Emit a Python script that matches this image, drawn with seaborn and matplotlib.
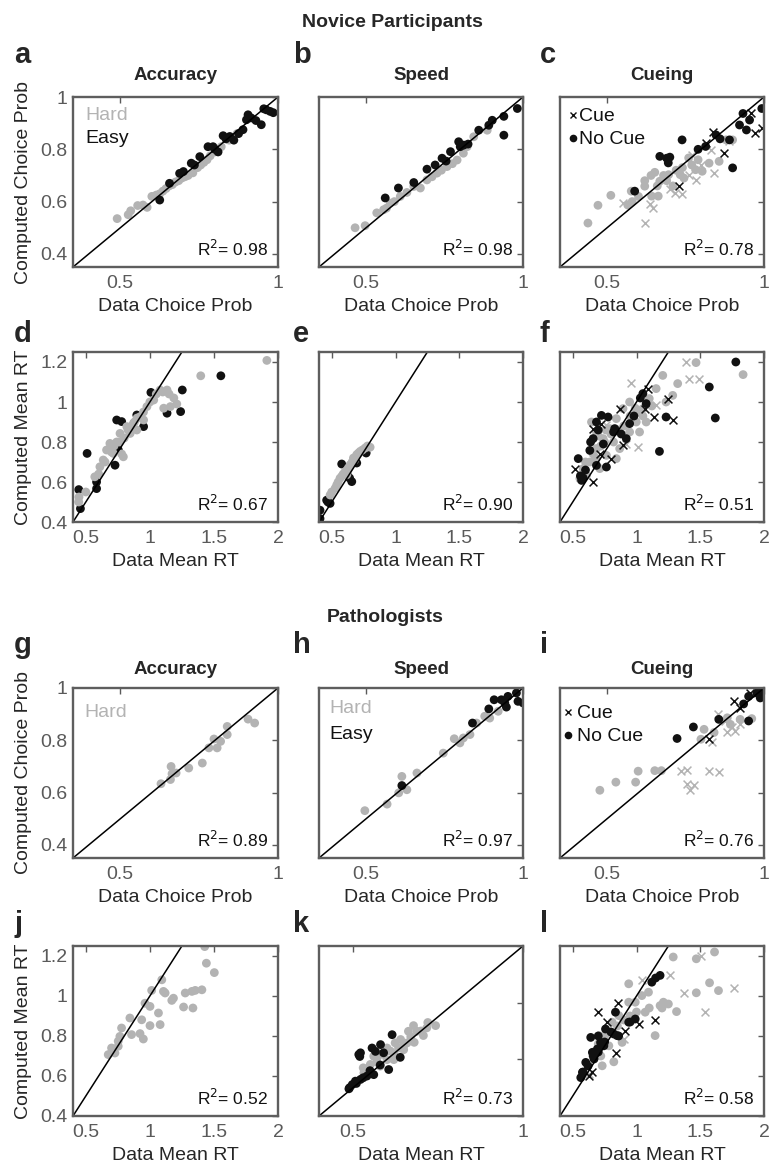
import numpy as np
import pandas as pd
import matplotlib
matplotlib.use("Agg")
import matplotlib.pyplot as plt
import seaborn as sns

sns.set_style("white")
plt.rcParams["font.family"] = ["Liberation Sans", "DejaVu Sans"]

GRAY = "#b3b3b3"
BLACK = "#111111"
FRAME = "#5e5e5e"
TICKC = "#5a5a5a"

# ---------------- data (x = data value, y = computed value) ----------------
# Novice, choice probability
a_hard = [(0.49, 0.535), (0.525, 0.55), (0.533, 0.565), (0.555, 0.585), (0.572, 0.587), (0.585, 0.578),
          (0.60, 0.62), (0.614, 0.625), (0.625, 0.63), (0.635, 0.64), (0.645, 0.65), (0.655, 0.66),
          (0.665, 0.665), (0.675, 0.675), (0.685, 0.68), (0.695, 0.69), (0.705, 0.695), (0.715, 0.70),
          (0.73, 0.71), (0.745, 0.73), (0.755, 0.74), (0.765, 0.75), (0.775, 0.76), (0.785, 0.775),
          (0.80, 0.79), (0.82, 0.81), (0.845, 0.835), (0.87, 0.86)]
a_easy = [(0.625, 0.606), (0.656, 0.67), (0.688, 0.708), (0.70, 0.715), (0.725, 0.747), (0.735, 0.74),
          (0.752, 0.772), (0.778, 0.81), (0.794, 0.81), (0.80, 0.80), (0.81, 0.79), (0.826, 0.852),
          (0.835, 0.84), (0.847, 0.849), (0.86, 0.835), (0.875, 0.86), (0.889, 0.875), (0.90, 0.913),
          (0.905, 0.932), (0.915, 0.92), (0.93, 0.91), (0.947, 0.894), (0.955, 0.955), (0.963, 0.951),
          (0.975, 0.945), (0.985, 0.94)]

b_hard = [(0.465, 0.50), (0.497, 0.508), (0.534, 0.557), (0.556, 0.569), (0.565, 0.575), (0.577, 0.594),
          (0.59, 0.60), (0.609, 0.62), (0.63, 0.635), (0.652, 0.658), (0.673, 0.652), (0.694, 0.683),
          (0.71, 0.695), (0.726, 0.709), (0.74, 0.72), (0.758, 0.734), (0.775, 0.745), (0.79, 0.759),
          (0.81, 0.785), (0.822, 0.81), (0.843, 0.848), (0.886, 0.873)]
b_easy = [(0.561, 0.614), (0.603, 0.652), (0.652, 0.673), (0.694, 0.724), (0.72, 0.74), (0.742, 0.766),
          (0.755, 0.755), (0.769, 0.791), (0.795, 0.829), (0.80, 0.81), (0.811, 0.816), (0.825, 0.82),
          (0.859, 0.873), (0.891, 0.892), (0.902, 0.911), (0.939, 0.926), (0.982, 0.956), (0.939, 0.854)]

c_hard_nocue = [(0.439, 0.518), (0.471, 0.586), (0.512, 0.624), (0.566, 0.587), (0.577, 0.64), (0.58, 0.60),
                (0.60, 0.62), (0.62, 0.659), (0.62, 0.68), (0.64, 0.70), (0.642, 0.621), (0.652, 0.712),
                (0.66, 0.66), (0.663, 0.621), (0.668, 0.678), (0.68, 0.70), (0.69, 0.68), (0.696, 0.703),
                (0.71, 0.66), (0.72, 0.72), (0.733, 0.703), (0.74, 0.73), (0.745, 0.69), (0.76, 0.767),
                (0.77, 0.74), (0.782, 0.722), (0.79, 0.76), (0.803, 0.716), (0.825, 0.747), (0.857, 0.754),
                (0.879, 0.836), (0.90, 0.836)]
c_hard_cue = [(0.55, 0.596), (0.62, 0.518), (0.636, 0.59), (0.647, 0.577), (0.70, 0.65), (0.717, 0.634),
              (0.739, 0.628), (0.76, 0.70), (0.771, 0.779), (0.782, 0.684), (0.80, 0.74), (0.83, 0.798),
              (0.841, 0.71), (0.89, 0.83)]
c_easy_nocue = [(0.588, 0.64), (0.668, 0.773), (0.69, 0.766), (0.695, 0.748), (0.70, 0.77), (0.739, 0.836),
                (0.79, 0.80), (0.814, 0.811), (0.847, 0.855), (0.86, 0.84), (0.89, 0.836), (0.90, 0.729),
                (0.922, 0.893), (0.933, 0.937), (0.944, 0.874), (0.954, 0.912), (0.993, 0.956)]
c_easy_cue = [(0.728, 0.659), (0.814, 0.823), (0.836, 0.867), (0.873, 0.785), (0.96, 0.937), (0.971, 0.861),
              (0.993, 0.88)]

# Novice, mean RT
d_hard = [(0.447, 0.525), (0.445, 0.50), (0.50, 0.55), (0.57, 0.626), (0.60, 0.64), (0.61, 0.676),
          (0.636, 0.71), (0.65, 0.70), (0.662, 0.76), (0.688, 0.793), (0.70, 0.75), (0.715, 0.743),
          (0.72, 0.78), (0.741, 0.80), (0.76, 0.80), (0.767, 0.843), (0.78, 0.74), (0.793, 0.726),
          (0.80, 0.82), (0.82, 0.877), (0.83, 0.86), (0.846, 0.843), (0.86, 0.88), (0.872, 0.894),
          (0.88, 0.90), (0.898, 0.86), (0.90, 0.92), (0.925, 0.927), (0.95, 0.95), (0.951, 0.91),
          (0.977, 0.977), (1.0, 1.0), (1.03, 1.01), (1.05, 1.04), (1.08, 1.06), (1.10, 1.05),
          (1.108, 0.969), (1.134, 1.06), (1.15, 1.04), (1.16, 0.977), (1.187, 1.02), (1.21, 0.99),
          (1.397, 1.131), (1.913, 1.208)]
d_easy = [(0.445, 0.562), (0.458, 0.467), (0.51, 0.743), (0.584, 0.60), (0.584, 0.567), (0.728, 0.684),
          (0.741, 0.91), (0.754, 0.76), (0.78, 0.902), (0.898, 0.935), (0.951, 0.877), (1.008, 1.048),
          (1.134, 0.944), (1.24, 0.952), (1.253, 1.06), (1.554, 1.131)]

e_hard = [(0.487, 0.535), (0.50, 0.55), (0.526, 0.568), (0.539, 0.585), (0.55, 0.60), (0.565, 0.619),
          (0.58, 0.63), (0.59, 0.64), (0.605, 0.652), (0.618, 0.636), (0.62, 0.66), (0.63, 0.67),
          (0.644, 0.686), (0.66, 0.70), (0.67, 0.72), (0.68, 0.71), (0.696, 0.737), (0.71, 0.745),
          (0.723, 0.753), (0.74, 0.76), (0.762, 0.77), (0.78, 0.78), (0.801, 0.774)]
e_easy = [(0.408, 0.459), (0.408, 0.417), (0.46, 0.509), (0.47, 0.50), (0.487, 0.493), (0.578, 0.69),
          (0.62, 0.64), (0.64, 0.62), (0.657, 0.602), (0.696, 0.695), (0.77, 0.745)]

f_hard_nocue = [(0.556, 0.617), (0.58, 0.64), (0.582, 0.667), (0.60, 0.70), (0.608, 0.633), (0.634, 0.70),
                (0.647, 0.90), (0.66, 0.74), (0.68, 0.72), (0.686, 0.767), (0.686, 0.85), (0.70, 0.83),
                (0.712, 0.667), (0.72, 0.78), (0.738, 0.817), (0.75, 0.80), (0.76, 0.86), (0.764, 0.733),
                (0.79, 0.867), (0.80, 0.84), (0.82, 0.80), (0.842, 0.917), (0.842, 0.717), (0.86, 0.86),
                (0.868, 0.767), (0.894, 0.967), (0.90, 0.88), (0.946, 1.0), (0.946, 0.85), (0.95, 0.93),
                (0.998, 0.90), (0.99, 0.969), (1.0, 0.95), (1.024, 0.85), (1.05, 0.967), (1.05, 0.93),
                (1.076, 0.90), (1.10, 1.017), (1.12, 0.98), (1.154, 1.067), (1.206, 1.133), (1.232, 1.0),
                (1.284, 1.033), (1.323, 1.092), (1.467, 1.197), (1.836, 1.137)]
f_hard_cue = [(0.556, 0.625), (0.764, 0.883), (0.92, 0.792), (0.959, 1.097), (1.011, 0.775), (1.154, 0.983),
              (1.389, 1.20), (1.415, 1.113), (1.487, 1.113)]
f_easy_nocue = [(0.543, 0.717), (0.56, 0.63), (0.569, 0.608), (0.582, 0.62), (0.60, 0.66), (0.634, 0.758),
                (0.64, 0.80), (0.66, 0.817), (0.686, 0.90), (0.686, 0.683), (0.70, 0.86), (0.725, 0.933),
                (0.74, 0.79), (0.764, 0.675), (0.777, 0.925), (0.82, 0.85), (0.829, 0.867), (0.88, 0.84),
                (0.92, 0.817), (0.946, 0.892), (0.98, 0.93), (1.03, 1.02), (1.05, 1.042), (1.076, 0.992),
                (1.18, 0.753), (1.232, 0.925), (1.571, 1.075), (1.618, 0.92), (1.779, 1.20)]
f_easy_cue = [(0.517, 0.667), (0.66, 0.867), (0.66, 0.60), (0.712, 0.742), (0.725, 0.892), (0.803, 0.717),
              (0.868, 0.967), (0.894, 0.783), (1.063, 0.967), (1.089, 1.067), (1.141, 0.925), (1.245, 1.017),
              (1.284, 0.908)]

# Pathologists, choice probability
g_hard = [(0.629, 0.634), (0.659, 0.65), (0.661, 0.70), (0.664, 0.672), (0.677, 0.675), (0.717, 0.694),
          (0.76, 0.713), (0.781, 0.771), (0.797, 0.805), (0.807, 0.771), (0.818, 0.796), (0.839, 0.853),
          (0.839, 0.822), (0.905, 0.881), (0.926, 0.866)]

h_hard = [(0.496, 0.531), (0.567, 0.556), (0.604, 0.599), (0.614, 0.662), (0.63, 0.611), (0.662, 0.675),
          (0.746, 0.751), (0.781, 0.806), (0.799, 0.79), (0.81, 0.809), (0.831, 0.822), (0.852, 0.866),
          (0.878, 0.892), (0.894, 0.885), (0.921, 0.911)]
h_easy = [(0.614, 0.627), (0.839, 0.866), (0.891, 0.92), (0.908, 0.955), (0.931, 0.955), (0.942, 0.943),
          (0.947, 0.927), (0.952, 0.968), (0.979, 0.981), (0.984, 0.949), (1.0, 0.943)]

i_hard_nocue = [(0.477, 0.609), (0.528, 0.64), (0.591, 0.64), (0.599, 0.682), (0.652, 0.684), (0.673, 0.684),
                (0.799, 0.804), (0.809, 0.842), (0.841, 0.83), (0.883, 0.886), (0.893, 0.861), (0.924, 0.88),
                (0.961, 0.883)]
i_hard_cue = [(0.736, 0.684), (0.755, 0.688), (0.755, 0.634), (0.765, 0.609), (0.778, 0.628), (0.825, 0.684),
              (0.835, 0.792), (0.853, 0.899), (0.856, 0.678), (0.877, 0.874), (0.883, 0.83), (0.898, 0.849),
              (0.909, 0.836), (0.924, 0.861)]
i_easy_nocue = [(0.723, 0.807), (0.775, 0.851), (0.856, 0.88), (0.935, 0.939), (0.951, 0.874), (0.951, 0.968),
                (0.977, 0.981), (0.988, 0.962), (1.0, 0.981), (0.995, 0.99)]
i_easy_cue = [(0.825, 0.804), (0.904, 0.95), (0.925, 0.924), (0.956, 0.981)]

# Pathologists, mean RT
j_hard = [(0.675, 0.707), (0.701, 0.74), (0.727, 0.715), (0.753, 0.749), (0.753, 0.774), (0.766, 0.798),
          (0.779, 0.84), (0.844, 0.89), (0.857, 0.807), (0.923, 0.812), (0.936, 0.881), (0.949, 0.785),
          (0.962, 0.964), (1.001, 0.948), (1.001, 0.852), (1.014, 1.028), (1.067, 0.915), (1.08, 0.857),
          (1.093, 1.081), (1.106, 1.023), (1.119, 1.015), (1.171, 0.978), (1.184, 0.989), (1.263, 0.945),
          (1.276, 1.015), (1.328, 1.023), (1.336, 0.94), (1.354, 1.028), (1.406, 1.031), (1.428, 1.247),
          (1.441, 1.164), (1.503, 1.117)]

k_hard = [(0.532, 0.552), (0.53, 0.57), (0.55, 0.55), (0.551, 0.582), (0.561, 0.611), (0.57, 0.59),
          (0.571, 0.605), (0.58, 0.576), (0.59, 0.617), (0.60, 0.599), (0.60, 0.64), (0.61, 0.629),
          (0.62, 0.599), (0.62, 0.62), (0.624, 0.658), (0.634, 0.64), (0.64, 0.67), (0.649, 0.634),
          (0.65, 0.65), (0.659, 0.658), (0.663, 0.699), (0.67, 0.68), (0.678, 0.719), (0.68, 0.66),
          (0.688, 0.699), (0.70, 0.70), (0.707, 0.684), (0.717, 0.711), (0.72, 0.73), (0.743, 0.719)]
k_easy = [(0.488, 0.496), (0.49, 0.50), (0.498, 0.511), (0.507, 0.523), (0.51, 0.515), (0.517, 0.617),
          (0.52, 0.61), (0.522, 0.529), (0.522, 0.623), (0.53, 0.535), (0.541, 0.541), (0.55, 0.56),
          (0.556, 0.64), (0.561, 0.546), (0.566, 0.628), (0.58, 0.58), (0.581, 0.652), (0.59, 0.623),
          (0.605, 0.564), (0.615, 0.687), (0.639, 0.607)]

l_hard_nocue = [(0.66, 0.72), (0.70, 0.76), (0.705, 0.802), (0.72, 0.70), (0.731, 0.651), (0.75, 0.80),
                (0.783, 0.751), (0.80, 0.82), (0.809, 0.869), (0.822, 0.671), (0.85, 0.85), (0.861, 0.902),
                (0.887, 0.768), (0.90, 0.88), (0.939, 0.969), (0.939, 1.061), (0.95, 0.90), (0.99, 0.969),
                (1.0, 0.92), (1.042, 1.002), (1.068, 0.919), (1.094, 1.019), (1.10, 0.94), (1.146, 0.802),
                (1.185, 0.952), (1.20, 0.94), (1.211, 0.969), (1.25, 0.96), (1.288, 1.195), (1.314, 0.922),
                (1.469, 1.186), (1.469, 1.016), (1.573, 1.066), (1.612, 1.22), (1.643, 1.027)]
l_hard_cue = [(0.628, 0.609), (0.90, 0.785), (1.042, 1.078), (1.262, 1.103), (1.373, 1.016), (1.503, 1.20),
              (1.539, 0.922), (1.767, 1.039)]
l_easy_nocue = [(0.563, 0.592), (0.576, 0.618), (0.58, 0.62), (0.602, 0.668), (0.62, 0.65), (0.641, 0.793),
                (0.654, 0.718), (0.66, 0.70), (0.667, 0.685), (0.693, 0.735), (0.70, 0.72), (0.70, 0.80),
                (0.718, 0.768), (0.744, 0.751), (0.75, 0.77), (0.757, 0.835), (0.80, 0.82), (0.822, 0.81),
                (0.835, 0.919), (0.848, 0.802), (0.86, 0.80), (0.939, 0.869), (0.95, 0.87), (0.99, 0.885),
                (1.12, 1.069), (1.15, 1.09), (1.185, 1.103)]
l_easy_cue = [(0.628, 0.601), (0.654, 0.618), (0.698, 0.922), (0.77, 0.869), (0.84, 0.715), (0.855, 0.966),
              (0.913, 0.827), (1.016, 0.86), (1.145, 0.882)]

r2_values = {"a": "0.98", "b": "0.98", "c": "0.78", "d": "0.67", "e": "0.90", "f": "0.51",
             "g": "0.89", "h": "0.97", "i": "0.76", "j": "0.52", "k": "0.73", "l": "0.58"}

choice_ticks = [0.4, 0.6, 0.8, 1.0]
choice_ticklabels = ["0.4", "0.6", "0.8", "1"]
choice_xticks = [0.5, 1.0]
choice_xticklabels = ["0.5", "1"]
rt_yticks = [0.4, 0.6, 0.8, 1.0, 1.2]
rt_yticklabels = ["0.4", "0.6", "0.8", "1", "1.2"]
rt_xticks = [0.5, 1.0, 1.5, 2.0]
rt_xticklabels = ["0.5", "1", "1.5", "2"]

# ---------------- layout ----------------
W, H = 769, 1172
col_left = [73, 319, 560]
col_w = [205, 204, 204]
row_top = [97, 352, 688, 946]
row_h = 170

fig = plt.figure(figsize=(W / 100, H / 100), dpi=100)


def make_ax(r, c):
    return fig.add_axes([col_left[c] / W, 1 - (row_top[r] + row_h) / H, col_w[c] / W, row_h / H])


def scatter(ax, pts, color, marker):
    df = pd.DataFrame(pts, columns=["data", "model"])
    if marker == "o":
        sns.scatterplot(data=df, x="data", y="model", ax=ax, color=color, marker="o",
                        s=40, linewidth=0, edgecolor="none", legend=False, zorder=3)
    else:
        sns.scatterplot(data=df, x="data", y="model", ax=ax, color=color, marker="x",
                        s=32, linewidth=1.1, legend=False, zorder=3)


panels = [
    # key, row, col, kind, title, groups
    ("a", 0, 0, "choice", "Accuracy", [(a_hard, GRAY, "o"), (a_easy, BLACK, "o")]),
    ("b", 0, 1, "choice", "Speed", [(b_hard, GRAY, "o"), (b_easy, BLACK, "o")]),
    ("c", 0, 2, "choice", "Cueing", [(c_hard_nocue, GRAY, "o"), (c_hard_cue, GRAY, "x"),
                                     (c_easy_nocue, BLACK, "o"), (c_easy_cue, BLACK, "x")]),
    ("d", 1, 0, "rt", None, [(d_easy, BLACK, "o"), (d_hard, GRAY, "o")]),
    ("e", 1, 1, "rt", None, [(e_easy, BLACK, "o"), (e_hard, GRAY, "o")]),
    ("f", 1, 2, "rt", None, [(f_hard_nocue, GRAY, "o"), (f_hard_cue, GRAY, "x"),
                             (f_easy_nocue, BLACK, "o"), (f_easy_cue, BLACK, "x")]),
    ("g", 2, 0, "choice", "Accuracy", [(g_hard, GRAY, "o")]),
    ("h", 2, 1, "choice", "Speed", [(h_hard, GRAY, "o"), (h_easy, BLACK, "o")]),
    ("i", 2, 2, "choice", "Cueing", [(i_hard_nocue, GRAY, "o"), (i_hard_cue, GRAY, "x"),
                                     (i_easy_nocue, BLACK, "o"), (i_easy_cue, BLACK, "x")]),
    ("j", 3, 0, "rt", None, [(j_hard, GRAY, "o")]),
    ("k", 3, 1, "rt_short", None, [(k_hard, GRAY, "o"), (k_easy, BLACK, "o")]),
    ("l", 3, 2, "rt", None, [(l_hard_nocue, GRAY, "o"), (l_hard_cue, GRAY, "x"),
                             (l_easy_nocue, BLACK, "o"), (l_easy_cue, BLACK, "x")]),
]

letter_x = [14, 293, 540]
letter_base = [63, 342, 653, 932]
title_pad = [12.5, None, 10.0, None]

for key, r, c, kind, title, groups in panels:
    ax = make_ax(r, c)
    for pts, color, marker in groups:
        scatter(ax, pts, color, marker)
    ax.axline((0, 0), slope=1, color="black", lw=1.1, zorder=4)

    if kind == "choice":
        ax.set_xlim(0.35, 1.0)
        ax.set_ylim(0.35, 1.0)
        ax.set_xticks(choice_xticks, choice_xticklabels)
        ax.set_yticks(choice_ticks, choice_ticklabels)
        ax.set_xlabel("Data Choice Prob", fontsize=14, labelpad=4)
        if c == 0:
            ax.set_ylabel("Computed Choice Prob", fontsize=14, labelpad=6)
    elif kind == "rt":
        ax.set_xlim(0.4, 2.0)
        ax.set_ylim(0.4, 1.25)
        ax.set_xticks(rt_xticks, rt_xticklabels)
        ax.set_yticks(rt_yticks, rt_yticklabels)
        ax.set_xlabel("Data Mean RT", fontsize=14, labelpad=4)
        if c == 0:
            ax.set_ylabel("Computed Mean RT", fontsize=14, labelpad=6)
    else:
        ax.set_xlim(0.4, 1.0)
        ax.set_ylim(0.4, 1.0)
        ax.set_xticks(choice_xticks, choice_xticklabels)
        ax.set_yticks(choice_ticks, choice_ticklabels)
        ax.set_xlabel("Data Mean RT", fontsize=14, labelpad=4)
    if c != 0:
        ax.set_ylabel("")
        ax.tick_params(axis="y", labelleft=False)

    ax.tick_params(direction="in", length=4, width=1, color=TICKC, labelcolor=TICKC,
                   labelsize=14, top=True, right=True)
    ax.tick_params(axis="x", pad=6)
    ax.tick_params(axis="y", pad=4)
    for sp in ax.spines.values():
        sp.set_color(FRAME)
        sp.set_linewidth(1.7)
        sp.set_zorder(5)

    ax.text(0.95, 0.065, r"R$^2$= " + r2_values[key], transform=ax.transAxes, ha="right",
            va="baseline", fontsize=12.5, color="#111111", zorder=6)

    if title is not None:
        ax.set_title(title, fontsize=13.5, fontweight="bold", pad=title_pad[r])

    fig.text(letter_x[c] / W, 1 - letter_base[r] / H, key, fontsize=21, fontweight="bold",
             va="baseline", ha="left")

    # in-plot legends
    if key == "a":
        ax.text(0.06, 0.865, "Hard", color=GRAY, fontsize=14, transform=ax.transAxes, va="baseline")
        ax.text(0.06, 0.73, "Easy", color=BLACK, fontsize=14, transform=ax.transAxes, va="baseline")
    if key == "h":
        ax.text(0.052, 0.853, "Hard", color=GRAY, fontsize=14, transform=ax.transAxes, va="baseline")
        ax.text(0.052, 0.70, "Easy", color=BLACK, fontsize=14, transform=ax.transAxes, va="baseline")
    if key == "g":
        ax.text(0.054, 0.83, "Hard", color=GRAY, fontsize=14, transform=ax.transAxes, va="baseline")
    if key in ("c", "i"):
        if key == "c":
            mx, tx, y1, y2 = 0.064, 0.095, 0.86, 0.725
        else:
            mx, tx, y1, y2 = 0.04, 0.085, 0.825, 0.69
        ax.plot([mx], [y1 + 0.032], marker="x", color=BLACK, ms=5, mew=1.0, transform=ax.transAxes,
                linestyle="none", zorder=6)
        ax.plot([mx], [y2 + 0.035], marker="o", color=BLACK, ms=5.5, mew=0, transform=ax.transAxes,
                linestyle="none", zorder=6)
        ax.text(tx, y1, "Cue", color=BLACK, fontsize=14, transform=ax.transAxes, va="baseline")
        ax.text(tx, y2, "No Cue", color=BLACK, fontsize=14, transform=ax.transAxes, va="baseline")

fig.text(392 / W, 1 - 27 / H, "Novice Participants", ha="center", va="baseline", fontsize=14,
         fontweight="bold")
fig.text(385 / W, 1 - 622 / H, "Pathologists", ha="center", va="baseline", fontsize=14,
         fontweight="bold")

fig.savefig("out.png", dpi=100)
